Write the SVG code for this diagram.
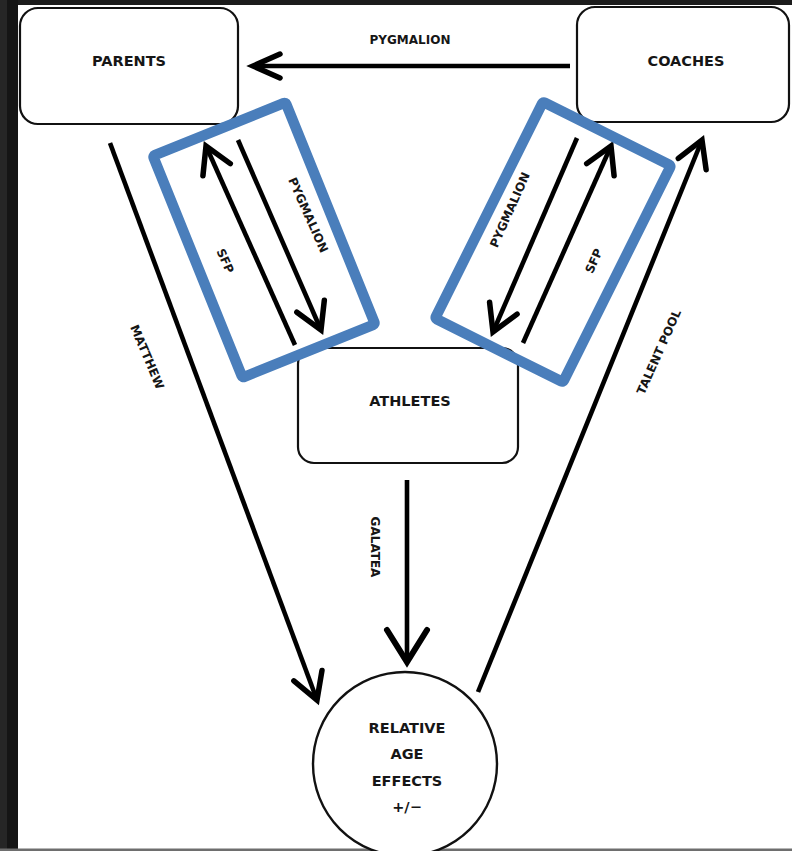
<svg xmlns="http://www.w3.org/2000/svg" width="792" height="851" viewBox="0 0 792 851">
<style>
.box{fill:#fff;stroke:#111;stroke-width:2.2}
.t{font-family:"DejaVu Sans","Liberation Sans",sans-serif;font-weight:bold;fill:#161616;text-anchor:middle}
.big{font-size:14.5px}
.sm{font-size:12px;dominant-baseline:central}
.ln{fill:none;stroke:#000;stroke-width:4.6;stroke-linecap:butt}
.hl{fill:none;stroke:#4A7EBB;stroke-width:10.5;stroke-linejoin:round}
</style>
<defs>
<marker id="ah" markerUnits="userSpaceOnUse" viewBox="-30 -20 34 40" markerWidth="34" markerHeight="40" refX="0" refY="0" orient="auto" overflow="visible">
<path d="M-26,-15 L0,0 L-26,15" fill="none" stroke="#000" stroke-width="5.5" stroke-linecap="round" stroke-linejoin="miter"/>
</marker>
<marker id="ahw" markerUnits="userSpaceOnUse" viewBox="-30 -20 34 40" markerWidth="34" markerHeight="40" refX="0" refY="0" orient="auto" overflow="visible">
<path d="M-27,-12 L0,0 L-27,12" fill="none" stroke="#000" stroke-width="5.5" stroke-linecap="round" stroke-linejoin="miter"/>
</marker>
<marker id="ahl" markerUnits="userSpaceOnUse" viewBox="-36 -24 40 48" markerWidth="40" markerHeight="48" refX="0" refY="0" orient="auto" overflow="visible">
<path d="M-32,-20 L0,0 L-32,20" fill="none" stroke="#000" stroke-width="6" stroke-linecap="round" stroke-linejoin="miter"/>
</marker>
</defs>
<g id="frame">
<rect x="0" y="0" width="792" height="851" fill="#fff"/>
<rect x="0" y="0" width="792" height="5" fill="#1c1c1c"/>
<rect x="0" y="0" width="7" height="851" fill="#262626"/>
<rect x="7" y="0" width="11" height="851" fill="#151515"/>
<rect x="0" y="848.5" width="792" height="2.5" fill="#6e6e6e"/>
</g>
<g id="connectors">
<line class="ln" x1="570" y1="66" x2="253" y2="66" marker-end="url(#ahw)"/>
<text class="t sm" x="410" y="40">PYGMALION</text>
<line class="ln" x1="295" y1="345" x2="206" y2="146" marker-end="url(#ah)"/>
<line class="ln" x1="238" y1="140" x2="321" y2="330" marker-end="url(#ah)"/>
<line class="ln" x1="577" y1="138" x2="493" y2="332" marker-end="url(#ah)"/>
<line class="ln" x1="523" y1="343" x2="611" y2="146" marker-end="url(#ah)"/>
<line class="ln" x1="110" y1="143" x2="317" y2="700" marker-end="url(#ah)"/>
<line class="ln" x1="478" y1="692" x2="702" y2="140" marker-end="url(#ah)"/>
<line class="ln" x1="407" y1="480" x2="407" y2="662" marker-end="url(#ahl)"/>
<text class="t sm" transform="translate(308,215) rotate(66)">PYGMALION</text>
<text class="t sm" transform="translate(225,261) rotate(66)">SFP</text>
<text class="t sm" transform="translate(510,210) rotate(-66)">PYGMALION</text>
<text class="t sm" transform="translate(594,261) rotate(-66)">SFP</text>
<text class="t sm" transform="translate(147,357) rotate(67)">MATTHEW</text>
<text class="t sm" transform="translate(659,352) rotate(-66)">TALENT POOL</text>
<text class="t sm" transform="translate(375,547) rotate(90)">GALATEA</text>
</g>
<g id="parents">
<rect class="box" x="20" y="8" width="218" height="116" rx="18"/>
<text class="t big" x="129" y="66">PARENTS</text>
</g>
<g id="coaches">
<rect class="box" x="577" y="7" width="212" height="115" rx="18"/>
<text class="t big" x="686" y="66">COACHES</text>
</g>
<g id="athletes">
<rect class="box" x="298" y="348" width="220" height="115" rx="16"/>
<text class="t big" x="410" y="406">ATHLETES</text>
</g>
<g id="relative-age-effects">
<circle cx="405" cy="764" r="92" fill="#fff" stroke="#111" stroke-width="2.4"/>
<text class="t big" x="407" y="733">RELATIVE</text>
<text class="t big" x="407" y="759">AGE</text>
<text class="t big" x="407" y="786">EFFECTS</text>
<text class="t big" x="407" y="812">+/−</text>
</g>
<g id="highlights">
<rect class="hl" x="-71.5" y="-119.5" width="143" height="239" rx="2" transform="translate(264,240) rotate(-22)"/>
<rect class="hl" x="-71.5" y="-121" width="143" height="242" rx="2" transform="translate(553,242) rotate(26.5)"/>
</g>
</svg>
